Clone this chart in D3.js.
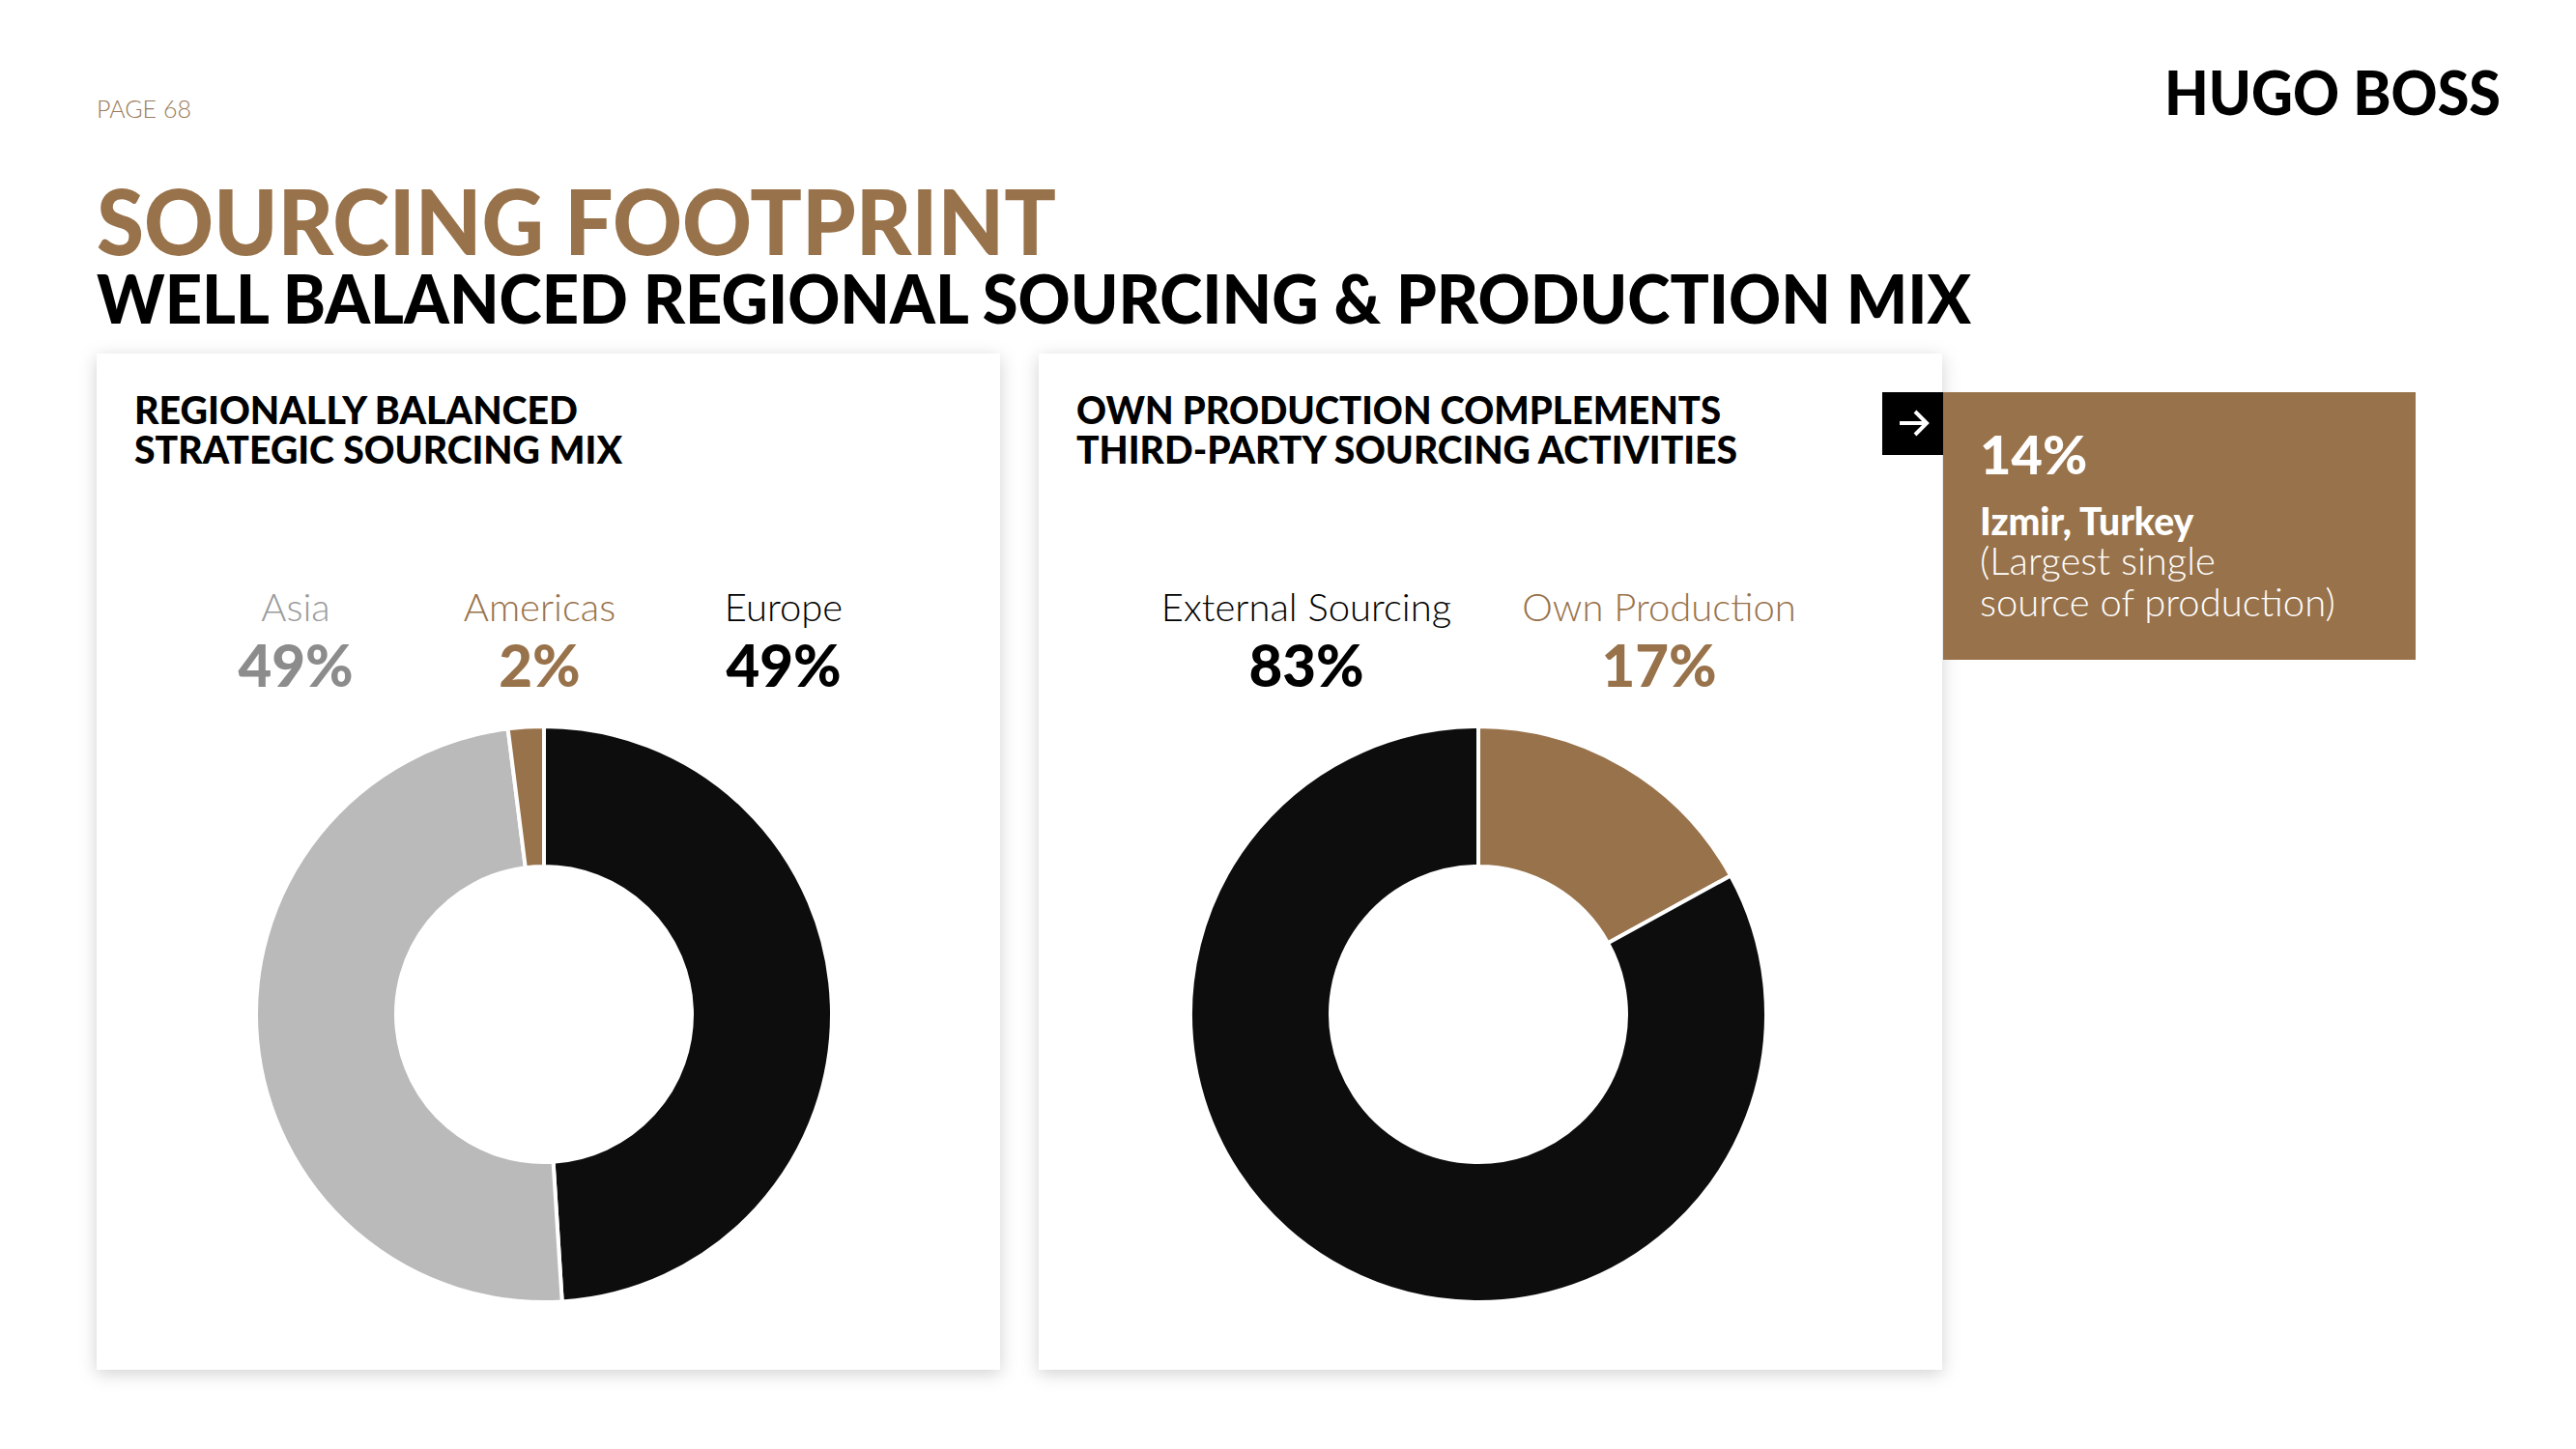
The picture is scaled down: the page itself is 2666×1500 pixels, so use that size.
<!DOCTYPE html>
<html><head><meta charset="utf-8">
<script src="https://cdn.jsdelivr.net/npm/d3@7"></script>
<style>html,body{margin:0;padding:0;background:#fff;}svg{display:block;}</style>
</head><body>
<script>
// ---- data ----
const regionCategories = ["Europe", "Asia", "Americas"];
const regionValues = [49, 49, 2];
const regionColors = ["#0d0d0d", "#bababa", "#98724a"];
const regionLabelOrder = ["Asia", "Americas", "Europe"];
const regionLabelColors = ["#9a9a9a", "#98724a", "#000000"];
const regionValueColors = ["#8c8c8c", "#98724a", "#000000"];

const productionCategories = ["Own Production", "External Sourcing"];
const productionValues = [17, 83];
const productionColors = ["#98724a", "#0d0d0d"];
const productionLabelOrder = ["External Sourcing", "Own Production"];
const productionLabelColors = ["#000000", "#98724a"];

const highlightValue = "14%";
const highlightLines = ["Izmir, Turkey", "(Largest single", "source of production)"];

const W = 2666, H = 1500;
const brown = "#98724a";
const svg = d3.select("body").append("svg").attr("width", W).attr("height", H);

const defs = svg.append("defs");
const f = defs.append("filter").attr("id", "sh").attr("x", "-10%").attr("y", "-10%").attr("width", "120%").attr("height", "120%");
f.append("feDropShadow").attr("dx", 0).attr("dy", 4).attr("stdDeviation", 9).attr("flood-color", "#000").attr("flood-opacity", 0.18);

// header
svg.append("text").attr("x", 100).attr("y", 122).text("PAGE 68")
  .attr("font-family", "Lato").attr("font-weight", 300).attr("font-size", 25).attr("fill", "#9a7a58");
svg.append("text").attr("x", 2588).attr("y", 119).attr("text-anchor", "end").text("HUGO BOSS")
  .attr("font-family", "Lato").attr("font-weight", 900).attr("font-size", 62).attr("fill", "#000")
  .attr("textLength", 348).attr("lengthAdjust", "spacingAndGlyphs");
svg.append("text").attr("x", 100).attr("y", 264).text("SOURCING FOOTPRINT")
  .attr("font-family", "Lato").attr("font-weight", 900).attr("font-size", 94).attr("fill", brown)
  .attr("textLength", 993).attr("lengthAdjust", "spacingAndGlyphs");
svg.append("text").attr("x", 100).attr("y", 335).text("WELL BALANCED REGIONAL SOURCING & PRODUCTION MIX")
  .attr("font-family", "Lato").attr("font-weight", 900).attr("font-size", 71).attr("fill", "#000")
  .attr("textLength", 1940).attr("lengthAdjust", "spacingAndGlyphs");

// panels
const panels = [
  {x: 100, y: 366, w: 935, h: 1052, title: ["REGIONALLY BALANCED", "STRATEGIC SOURCING MIX"], tw: [459, 505]},
  {x: 1075, y: 366, w: 935, h: 1052, title: ["OWN PRODUCTION COMPLEMENTS", "THIRD-PARTY SOURCING ACTIVITIES"], tw: [667, 684]}
];
panels.forEach(p => {
  svg.append("rect").attr("x", p.x).attr("y", p.y).attr("width", p.w).attr("height", p.h)
    .attr("fill", "#fff").attr("filter", "url(#sh)");
  p.title.forEach((t, i) => {
    svg.append("text").attr("x", p.x + 39).attr("y", 439 + i * 41).text(t)
      .attr("font-family", "Lato").attr("font-weight", 900).attr("font-size", 40).attr("fill", "#000")
      .attr("textLength", p.tw[i]).attr("lengthAdjust", "spacingAndGlyphs");
  });
});

// donut helper
function donut(cx, cy, values, colors) {
  const pie = d3.pie().sort(null).value(d => d);
  const arc = d3.arc().innerRadius(153).outerRadius(298);
  const g = svg.append("g").attr("transform", `translate(${cx},${cy})`);
  g.selectAll("path").data(pie(values)).join("path")
    .attr("d", arc).attr("fill", (d, i) => colors[i])
    .attr("stroke", "#fff").attr("stroke-width", 4).attr("stroke-linejoin", "miter");
}
donut(563, 1050, regionValues, regionColors);
donut(1530, 1050, productionValues, productionColors);

// labels
const xRegion = d3.scalePoint().domain(regionLabelOrder).range([306, 811]);
regionLabelOrder.forEach((name, i) => {
  const v = regionValues[regionCategories.indexOf(name)];
  svg.append("text").attr("x", xRegion(name)).attr("y", 643).attr("text-anchor", "middle").text(name)
    .attr("font-family", "Lato").attr("font-weight", 300).attr("font-size", 40).attr("fill", regionLabelColors[i]);
  svg.append("text").attr("x", xRegion(name)).attr("y", 711).attr("text-anchor", "middle").text(v + "%")
    .attr("font-family", "Lato").attr("font-weight", 900).attr("font-size", 60).attr("fill", regionValueColors[i]);
});
const xProd = d3.scalePoint().domain(productionLabelOrder).range([1352, 1717]);
productionLabelOrder.forEach((name, i) => {
  const v = productionValues[productionCategories.indexOf(name)];
  svg.append("text").attr("x", xProd(name)).attr("y", 643).attr("text-anchor", "middle").text(name)
    .attr("font-family", "Lato").attr("font-weight", 300).attr("font-size", 40).attr("fill", productionLabelColors[i]);
  svg.append("text").attr("x", xProd(name)).attr("y", 711).attr("text-anchor", "middle").text(v + "%")
    .attr("font-family", "Lato").attr("font-weight", 900).attr("font-size", 60).attr("fill", productionLabelColors[i]);
});

// highlight box
svg.append("rect").attr("x", 2011).attr("y", 406).attr("width", 489).attr("height", 277).attr("fill", brown);
svg.append("rect").attr("x", 1948).attr("y", 406).attr("width", 63).attr("height", 65).attr("fill", "#000");
svg.append("path").attr("d", "M1966,438 H1994 M1982,426 L1994,438 L1982,450")
  .attr("stroke", "#fff").attr("stroke-width", 4).attr("fill", "none");
svg.append("text").attr("x", 2049).attr("y", 491).text(highlightValue)
  .attr("font-family", "Lato").attr("font-weight", 900).attr("font-size", 56).attr("fill", "#fff");
svg.append("text").attr("x", 2049).attr("y", 554).text(highlightLines[0])
  .attr("font-family", "Lato").attr("font-weight", 900).attr("font-size", 39).attr("fill", "#fff");
highlightLines.slice(1).forEach((t, i) => {
  svg.append("text").attr("x", 2049).attr("y", 595 + i * 43).text(t)
    .attr("font-family", "Lato").attr("font-weight", 300).attr("font-size", 40).attr("fill", "#fff");
});
</script>
</body></html>
